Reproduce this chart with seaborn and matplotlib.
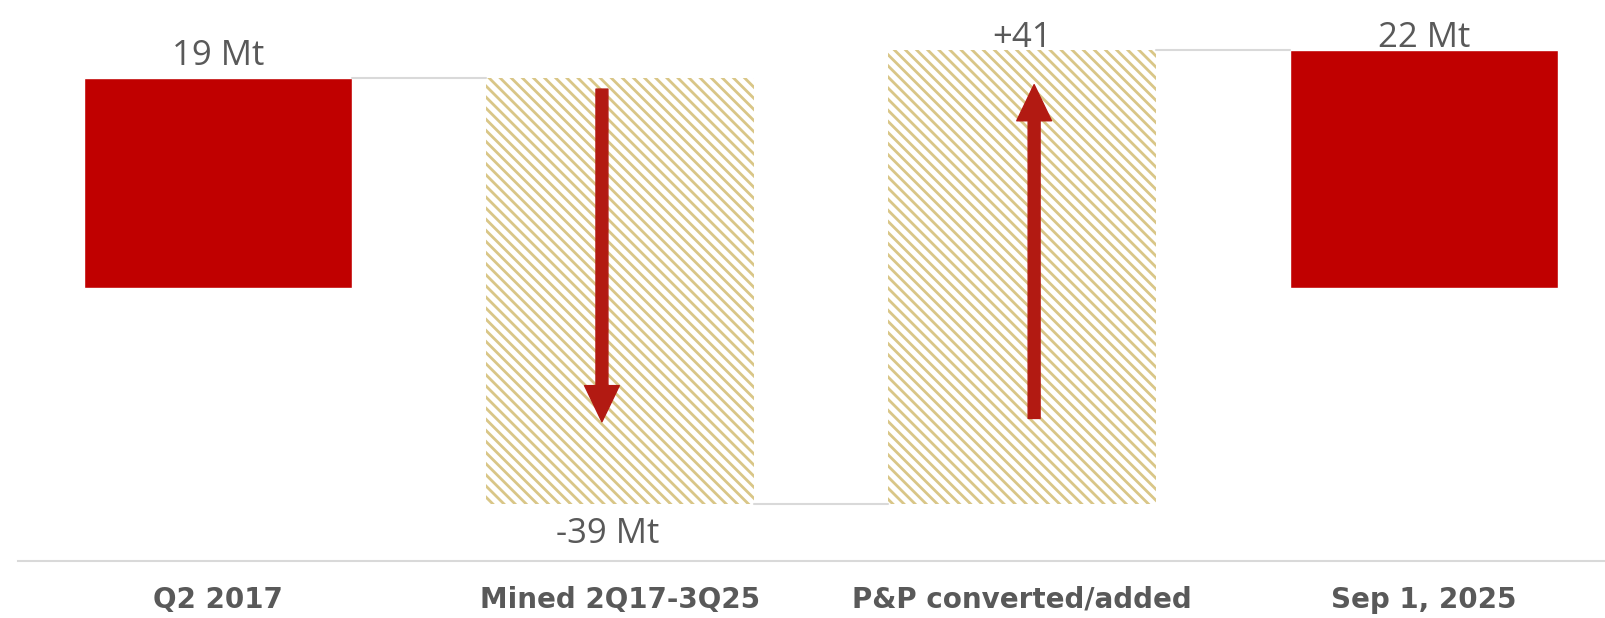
import numpy as np
import pandas as pd
import matplotlib
matplotlib.use("Agg")
import matplotlib.pyplot as plt
import seaborn as sns

# waterfall data (Mt)
categories = ["Q2 2017", "Mined 2Q17-3Q25", "P&P converted/added", "Sep 1, 2025"]
changes = [19.0, -38.5, 41.0, 21.5]
kinds = ["total", "delta", "delta", "total"]
value_labels = ["19 Mt", "-39 Mt", "+41", "22 Mt"]

RED = "#c00000"
TAN = "#d9c687"
ARROW = "#b21a12"
GREY_TXT = "#595959"
LINE = "#d9d9d9"

# floating bar bottoms/tops
bottoms, tops = [], []
level = 0.0
for v, k in zip(changes, kinds):
    if k == "total":
        b, t = 0.0, v
        level = v
    else:
        b, t = sorted([level, level + v])
        level = level + v
    bottoms.append(b)
    tops.append(t)

df = pd.DataFrame({"cat": categories, "height": np.array(tops) - np.array(bottoms)})

sns.set_theme(style="white")
plt.rcParams["hatch.linewidth"] = 2.0

fig = plt.figure(figsize=(16.05, 6.18), dpi=100)
ax = fig.add_axes([18 / 1605, 57 / 618, 1 - 18 / 1605, 1 - 57 / 618])

sns.barplot(data=df, x="cat", y="height", ax=ax, width=0.667, color=RED, saturation=1)

for i, p in enumerate(ax.patches):
    p.set_y(bottoms[i])
    if kinds[i] == "delta":
        p.set_facecolor("white")
        p.set_edgecolor(TAN)
        p.set_hatch("\\\\\\")
        p.set_linewidth(0)

ax.set_xlim(-0.4975, 3.45)
ax.set_ylim(-24.7, 26.06)

# connectors
half = 0.667 / 2
level = 0.0
for i in range(len(changes) - 1):
    level = changes[i] if kinds[i] == "total" else level + changes[i]
    ax.plot([i + half, i + 1 - half], [level, level], color=LINE, lw=1.5, zorder=1)

# direction arrows inside delta bars
for i, (v, k) in enumerate(zip(changes, kinds)):
    if k != "delta":
        continue
    if v < 0:
        start, end, x = tops[i] - 1.0, bottoms[i] + 7.4, i - 0.045
    else:
        start, end, x = bottoms[i] + 7.7, tops[i] - 3.1, i + 0.03
    ax.annotate("", xy=(x, end), xytext=(x, start),
                arrowprops=dict(arrowstyle="simple,head_length=26,head_width=25,tail_width=8.6",
                                mutation_scale=1, color=ARROW, shrinkA=0, shrinkB=0))

# value labels
for i, (v, k) in enumerate(zip(changes, kinds)):
    if v < 0:
        ax.text(i - 0.03, bottoms[i] - 1.2, value_labels[i], ha="center", va="top",
                fontsize=25, color=GREY_TXT, family="Open Sans")
    else:
        y = min(tops[i] + 0.5, 26.06 - 5.0)
        ax.text(i, y, value_labels[i], ha="center", va="bottom",
                fontsize=25, color=GREY_TXT, family="Open Sans")

ax.set_xlabel("")
ax.set_ylabel("")
ax.set_yticks([])
for s in ["top", "left", "right"]:
    ax.spines[s].set_visible(False)
ax.spines["bottom"].set_color(LINE)
ax.spines["bottom"].set_linewidth(1.5)
ax.tick_params(axis="x", length=0, pad=18)
for lbl in ax.get_xticklabels():
    lbl.set_fontfamily(["Liberation Sans Narrow", "DejaVu Sans"])
    lbl.set_fontweight("bold")
    lbl.set_fontsize(20)
    lbl.set_color(GREY_TXT)

fig.savefig("out.png", dpi=100)
